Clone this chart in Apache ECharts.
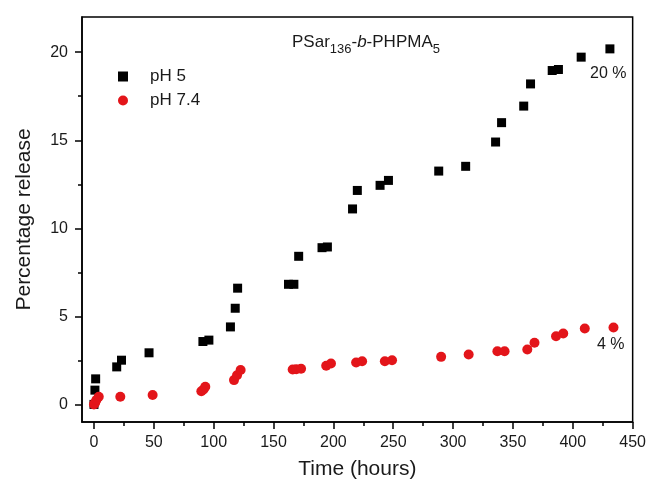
<!DOCTYPE html>
<html>
<head>
<meta charset="utf-8">
<script src="https://cdn.jsdelivr.net/npm/echarts@6/dist/echarts.min.js"></script>
<style>html,body{margin:0;padding:0;background:#fff;}#c{width:649px;height:489px;}</style>
</head>
<body>
<div id="c"></div>
<script>
// Data
var ph5Time = [0, 0.8, 1.4, 19, 23, 46, 91, 96, 114, 118, 120, 162.5, 167, 171, 190.5, 195, 216, 220, 239, 246, 288, 310.5, 335.5, 340.5, 359, 364.7, 382.8, 388, 407, 431];
var ph5Val = [0, 0.81, 1.45, 2.13, 2.51, 2.93, 3.57, 3.65, 4.40, 5.46, 6.6, 6.82, 6.82, 8.41, 8.9, 8.94, 11.1, 12.15, 12.44, 12.72, 13.25, 13.52, 14.9, 16.0, 16.94, 18.2, 18.96, 19.02, 19.72, 20.19];
var ph74Time = [0, 1, 2, 4, 22, 49, 89.7, 91.5, 93, 117, 119.5, 122.5, 166, 169, 173, 194, 198, 219, 224, 243, 249, 290, 313, 337, 343, 362, 368, 386, 392, 410, 434];
var ph74Val = [0, 0.1, 0.25, 0.43, 0.43, 0.53, 0.75, 0.85, 1.0, 1.38, 1.65, 1.95, 1.98, 2.0, 2.02, 2.19, 2.32, 2.38, 2.45, 2.45, 2.51, 2.70, 2.83, 3.02, 3.02, 3.12, 3.5, 3.87, 4.03, 4.31, 4.37];
var xMajorTicks = [0, 50, 100, 150, 200, 250, 300, 350, 400, 450];
var xMinorTicks = [25, 75, 125, 175, 225, 275, 325, 375, 425];
var yMajorTicks = [0, 5, 10, 15, 20];
var yMinorTicks = [2.5, 7.5, 12.5, 17.5];
var seriesNames = ['pH 5', 'pH 7.4'];
var annotations = ['20 %', '4 %'];

function zip(a, b) { return a.map(function (v, i) { return [v, b[i]]; }); }

var FONT = 'Liberation Sans, Arial, sans-serif';
var TXT = '#1a1a1a';
var RED = '#e3151a';
var chart = echarts.init(document.getElementById('c'), null, { renderer: 'canvas' });

var axisLineStyle = { color: '#000', width: 1.5 };

chart.setOption({
  backgroundColor: '#fff',
  animation: false,
  title: {
    text: 'PSar{sub|136}-{it|b}-PHPMA{sub|5}',
    left: 287, top: 24,
    textStyle: {
      fontFamily: FONT, fontSize: 17, fontWeight: 'normal', color: TXT,
      rich: {
        sub: { fontFamily: FONT, fontSize: 13, color: TXT, padding: [14, 0, 0, 0] },
        it: { fontFamily: FONT, fontSize: 17, fontStyle: 'italic', color: TXT }
      }
    }
  },
  legend: {
    orient: 'vertical',
    left: 113, top: 63,
    itemWidth: 10, itemHeight: 10, itemGap: 7,
    data: [
      { name: seriesNames[0], icon: 'rect', itemStyle: { color: '#000', opacity: 1 } },
      { name: seriesNames[1], icon: 'circle', itemStyle: { color: RED, opacity: 1 } }
    ],
    textStyle: { fontFamily: FONT, fontSize: 17, color: TXT, padding: [0, 0, 0, 17] }
  },
  grid: { left: 82, right: 15, top: 17, bottom: 67, show: true, borderColor: '#000', borderWidth: 1.5, containLabel: false },
  xAxis: [
    {
      type: 'value', min: -10, max: 450,
      name: 'Time (hours)', nameLocation: 'middle', nameGap: 37,
      nameTextStyle: { fontFamily: FONT, fontSize: 21, color: TXT },
      axisLine: { show: true, onZero: false, lineStyle: axisLineStyle },
      axisTick: { show: true, inside: false, length: 7, lineStyle: axisLineStyle, customValues: xMajorTicks },
      axisLabel: { fontFamily: FONT, fontSize: 16, color: TXT, margin: 13, customValues: xMajorTicks },
      splitLine: { show: false }
    },
    {
      type: 'value', min: -10, max: 450, position: 'bottom',
      axisLine: { show: false, onZero: false },
      axisTick: { show: true, length: 4, lineStyle: axisLineStyle, customValues: xMinorTicks },
      axisLabel: { show: false },
      splitLine: { show: false }
    }
  ],
  yAxis: [
    {
      type: 'value', min: -1, max: 22,
      name: 'Percentage release', nameLocation: 'middle', nameGap: 47,
      nameTextStyle: { fontFamily: FONT, fontSize: 21, color: TXT },
      axisLine: { show: true, onZero: false, lineStyle: axisLineStyle },
      axisTick: { show: true, length: 7, lineStyle: axisLineStyle, customValues: yMajorTicks },
      axisLabel: { fontFamily: FONT, fontSize: 16, color: TXT, margin: 14, customValues: yMajorTicks },
      splitLine: { show: false }
    },
    {
      type: 'value', min: -1, max: 22, position: 'left', offset: 0,
      axisLine: { show: false, onZero: false },
      axisTick: { show: true, length: 4, lineStyle: axisLineStyle, customValues: yMinorTicks },
      axisLabel: { show: false },
      splitLine: { show: false }
    }
  ],
  series: [
    {
      name: seriesNames[0], type: 'scatter', symbol: 'rect', symbolSize: 9,
      itemStyle: { color: '#000', opacity: 1 },
      data: zip(ph5Time, ph5Val), z: 2
    },
    {
      name: seriesNames[1], type: 'scatter', symbol: 'circle', symbolSize: 10,
      itemStyle: { color: RED, opacity: 1 },
      data: zip(ph74Time, ph74Val), z: 3
    }
  ],
  graphic: [
    { type: 'text', left: 590, top: 66, style: { text: annotations[0], font: '16px ' + FONT, fill: TXT } },
    { type: 'text', left: 597, top: 337, style: { text: annotations[1], font: '16px ' + FONT, fill: TXT } }
  ]
});
</script>
</body>
</html>
